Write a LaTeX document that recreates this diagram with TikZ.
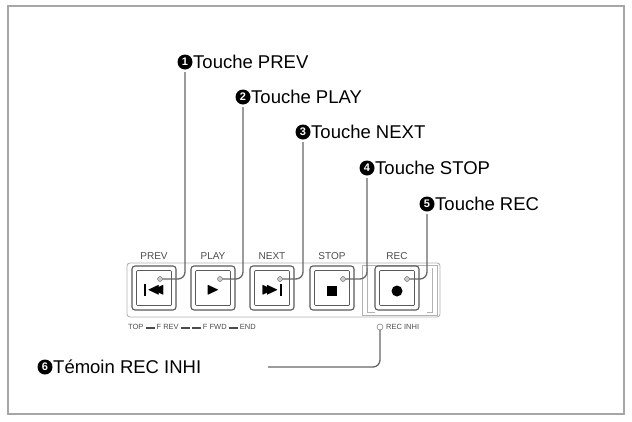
\documentclass[tikz,border=0pt]{standalone}
\usepackage{amssymb}
\usepackage{fontspec}
\setmainfont{Liberation Sans}
\begin{document}
\begin{tikzpicture}[x=1pt,y=-1pt,
 num/.style={circle,fill=black,text=white,inner sep=0pt,minimum size=15pt,font=\bfseries\fontsize{11}{11}\selectfont},
 lbl/.style={font=\fontsize{18.5}{18.5}\selectfont,inner sep=0pt,anchor=west},
 call/.style={gray!80!black,line width=1.3pt,rounded corners=7pt},
 key/.style={draw=gray!70!black,line width=1.1pt,rounded corners=3pt,minimum size=44pt,inner sep=0pt},
 keyin/.style={draw=gray!70!black,line width=0.7pt,rounded corners=1pt,minimum size=35pt,inner sep=0pt},
 small/.style={font=\fontsize{7.5}{7.5}\selectfont,gray!60!black,inner sep=0pt},
 dot/.style={circle,draw=gray!70!black,fill=gray!40,inner sep=0pt,minimum size=5pt}]
\useasboundingbox (0,0) rectangle (632,421);
\draw[gray!70,line width=1.4pt] (8,6) rectangle (624,414);
% panel
\draw[gray!60,line width=0.9pt,rounded corners=3pt] (127,263) rectangle (440,317);
\draw[gray!60,line width=0.8pt] (362,265) rectangle (437,315);
\draw[gray!60,line width=0.7pt] (367,268) -- (367,312) -- (375,312);
\draw[gray!60,line width=0.7pt] (432,268) -- (432,312) -- (427,312);
\foreach \n/\x/\t in {kp/154/PREV,kpl/213/PLAY,kn/272/NEXT,ks/332/STOP,kr/397/REC}{
 \node[key] (\n) at (\x,288) {};
 \node[keyin] (\n i) at (\x,288) {};
 \node[small,font=\fontsize{10}{10}\selectfont] (\n l) at (\x,256) {\t};
}
\node[font=\fontsize{17}{17}\selectfont] (s1) at (156,290) {$\blacktriangleleft\!\!\!\blacktriangleleft$};
\draw[line width=2pt] (145,284) -- (145,296);
\node[font=\fontsize{17}{17}\selectfont] (s2) at (213,290) {$\blacktriangleright$};
\node[font=\fontsize{17}{17}\selectfont] (s3) at (270,290) {$\blacktriangleright\!\!\!\blacktriangleright$};
\draw[line width=2pt] (281,284) -- (281,296);
\node[fill=black,minimum size=10pt,inner sep=0pt] (s4) at (332,291) {};
\node[circle,fill=black,minimum size=11pt,inner sep=0pt] (s5) at (397,291) {};
% dots
\foreach \n/\x in {d1/160,d2/220,d3/280,d4/343,d5/407}{\node[dot] (\n) at (\x,279) {};}
\node[small,anchor=west] (bt) at (128,327) {TOP \rule[1pt]{9pt}{1.8pt} F REV \rule[1pt]{9pt}{1.8pt}\ \rule[1pt]{9pt}{1.8pt} F FWD \rule[1pt]{9pt}{1.8pt} END};
\node[dot,fill=white,minimum size=6pt] (ri) at (380,327) {};
\node[small,anchor=west] (rit) at (386,327) {REC INHI};
% labels
\foreach \i/\x/\y/\t in {1/185/62/PREV,2/243/97/PLAY,3/303/132/NEXT,4/367/168/STOP,5/427/204/REC}{
 \node[num] (n\i) at (\x,\y) {\i};
 \node[lbl] (t\i) at (\x+8,\y) {Touche \t};
}
\draw[call] (185,72) |- (d1);
\draw[call] (243,107) |- (d2);
\draw[call] (303,142) |- (d3);
\draw[call] (367,178) |- (d4);
\draw[call] (427,214) |- (d5);
\node[num] (n6) at (45,367) {6};
\node[lbl] (t6) at (53,367) {Témoin REC INHI};
\coordinate (e6) at (268,367);
\draw[call] (e6) -| (ri);
\end{tikzpicture}
\end{document}
